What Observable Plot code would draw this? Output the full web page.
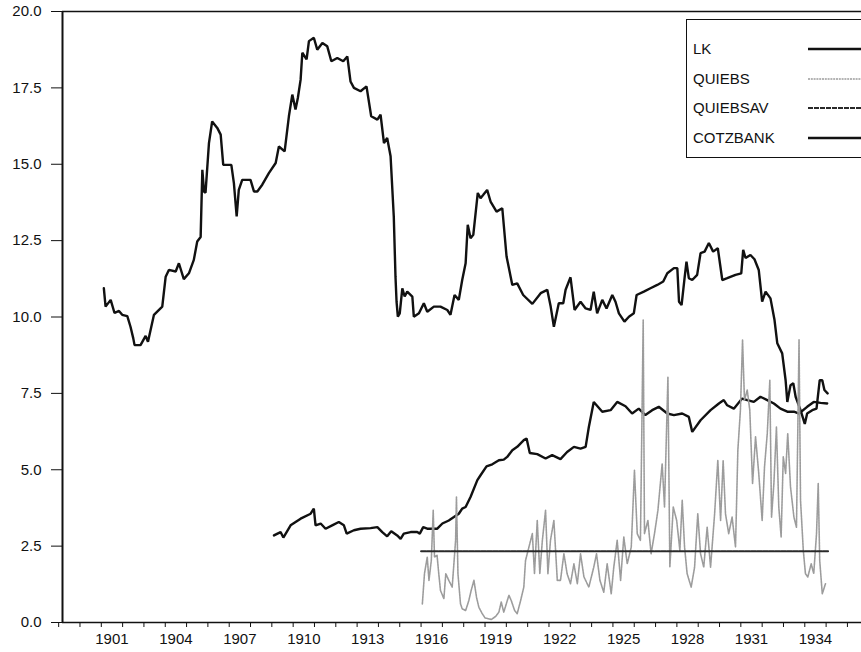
<!DOCTYPE html>
<html>
<head>
<meta charset="utf-8">
<script src="https://cdn.jsdelivr.net/npm/d3@7"></script>
<script src="https://cdn.jsdelivr.net/npm/@observablehq/plot@0.6"></script>
<style>
  html, body { margin: 0; padding: 0; background: #fff; }
  #wrap { position: relative; width: 861px; height: 652px; overflow: hidden; font-family: "Liberation Sans", Arial, sans-serif; }
  #legend { position: absolute; left: 686px; top: 19px; width: 220px; height: 139px; border: 1.5px solid #111; box-sizing: border-box; }
  #legend .row { position: absolute; left: 6px; font-size: 15px; color: #111; line-height: 16px; }
  #legend svg { position: absolute; left: 0; top: 0; }
</style>
</head>
<body>
<div id="wrap">
  <div id="chart"></div>
  <div id="legend"></div>
</div>
<script>
// ---- data ----
const lkYears = [1901.12,1901.2,1901.44,1901.62,1901.83,1901.98,1902.22,1902.37,1902.5,1902.56,1902.84,1903.08,1903.19,1903.47,1903.86,1904.02,1904.17,1904.49,1904.64,1904.87,1905.11,1905.34,1905.5,1905.66,1905.74,1905.82,1905.89,1906.05,1906.2,1906.44,1906.6,1906.72,1907.1,1907.22,1907.35,1907.45,1907.61,1908.0,1908.16,1908.32,1908.55,1908.86,1909.18,1909.33,1909.6,1909.8,1909.96,1910.11,1910.22,1910.35,1910.43,1910.63,1910.74,1910.97,1911.13,1911.37,1911.6,1911.79,1912.07,1912.35,1912.54,1912.69,1912.85,1913.16,1913.44,1913.66,1913.95,1914.1,1914.26,1914.41,1914.57,1914.72,1914.8,1914.85,1914.91,1915.0,1915.12,1915.23,1915.35,1915.59,1915.66,1915.9,1916.13,1916.29,1916.6,1916.91,1917.23,1917.38,1917.57,1917.77,1917.93,1918.09,1918.19,1918.32,1918.45,1918.66,1918.79,1918.92,1919.1,1919.26,1919.54,1919.81,1920.01,1920.28,1920.51,1920.79,1921.22,1921.61,1921.92,1922.08,1922.23,1922.46,1922.67,1922.78,1923.01,1923.2,1923.48,1923.72,1923.95,1924.1,1924.26,1924.5,1924.7,1924.97,1925.12,1925.28,1925.54,1925.75,1925.98,1926.11,1926.45,1926.76,1927.08,1927.36,1927.55,1927.86,1928.02,1928.1,1928.22,1928.36,1928.45,1928.56,1928.72,1928.95,1929.11,1929.3,1929.5,1929.7,1929.92,1930.13,1930.36,1930.75,1931.02,1931.11,1931.22,1931.45,1931.64,1931.84,1932.0,1932.16,1932.39,1932.58,1932.71,1932.94,1933.1,1933.18,1933.33,1933.46,1933.57,1933.8,1934.0,1934.11,1934.35,1934.55,1934.7,1934.82,1934.92,1935.07];
const lkValues = [10.94,10.34,10.56,10.13,10.2,10.07,10.03,9.68,9.3,9.08,9.08,9.38,9.19,10.07,10.34,11.32,11.54,11.49,11.76,11.24,11.43,11.87,12.47,12.62,14.82,14.1,14.07,15.69,16.4,16.19,15.97,14.98,14.98,14.38,13.29,14.16,14.49,14.49,14.11,14.11,14.33,14.71,15.04,15.58,15.42,16.57,17.28,16.79,17.17,17.77,18.65,18.43,19.03,19.14,18.75,18.97,18.86,18.37,18.48,18.37,18.53,17.71,17.5,17.39,17.55,16.57,16.46,16.62,15.69,15.86,15.26,13.29,11.32,10.5,10.01,10.12,10.94,10.67,10.83,10.67,10.01,10.12,10.45,10.17,10.34,10.34,10.23,10.07,10.72,10.56,11.21,11.76,13.02,12.58,12.69,14.06,13.89,14.0,14.16,13.78,13.45,13.56,11.98,11.05,11.1,10.72,10.43,10.78,10.89,10.34,9.68,10.45,10.45,10.89,11.3,10.23,10.5,10.28,10.23,10.83,10.12,10.56,10.28,10.72,10.5,10.12,9.85,10.01,10.12,10.72,10.83,10.94,11.05,11.16,11.43,11.6,11.6,10.5,10.39,11.27,11.81,11.27,11.21,11.38,12.09,12.14,12.42,12.14,12.25,11.21,11.27,11.38,11.43,12.2,11.93,12.03,11.89,11.54,10.5,10.83,10.61,9.9,9.14,8.81,7.93,7.22,7.77,7.83,7.39,6.95,6.5,6.84,6.95,7.0,7.93,7.93,7.61,7.5];

const quiebsYears = [1916.06,1916.16,1916.29,1916.37,1916.48,1916.57,1916.63,1916.75,1916.83,1916.91,1917.07,1917.16,1917.3,1917.46,1917.62,1917.66,1917.73,1917.85,1917.93,1918.09,1918.24,1918.35,1918.48,1918.6,1918.71,1918.87,1919.0,1919.3,1919.5,1919.65,1919.76,1919.88,1920.12,1920.23,1920.39,1920.51,1920.67,1920.82,1920.9,1921.06,1921.22,1921.32,1921.45,1921.57,1921.69,1921.84,1921.95,1922.07,1922.23,1922.39,1922.54,1922.7,1922.85,1923.01,1923.17,1923.33,1923.48,1923.64,1923.87,1924.1,1924.23,1924.39,1924.57,1924.73,1924.92,1925.04,1925.2,1925.36,1925.51,1925.67,1925.86,1926.01,1926.14,1926.29,1926.42,1926.48,1926.64,1926.79,1926.95,1927.11,1927.31,1927.42,1927.58,1927.67,1927.83,1927.99,1928.14,1928.25,1928.36,1928.48,1928.67,1928.83,1928.98,1929.11,1929.26,1929.42,1929.58,1929.77,1929.92,1930.05,1930.17,1930.28,1930.43,1930.59,1930.75,1930.86,1930.98,1931.08,1931.17,1931.3,1931.42,1931.55,1931.69,1931.84,1932.0,1932.11,1932.24,1932.36,1932.44,1932.55,1932.67,1932.78,1932.89,1932.99,1933.1,1933.2,1933.33,1933.49,1933.61,1933.73,1933.8,1933.93,1934.03,1934.14,1934.3,1934.42,1934.55,1934.63,1934.7,1934.82,1934.97];
const quiebsValues = [0.61,1.6,2.14,1.38,2.03,3.67,2.14,2.2,1.6,1.05,0.78,1.6,1.38,1.16,2.69,4.11,1.6,0.61,0.45,0.39,0.72,1.05,1.38,0.83,0.5,0.29,0.15,0.1,0.2,0.34,0.67,0.34,0.89,0.72,0.39,0.29,0.72,1.16,2.03,2.47,2.91,1.6,3.34,1.6,2.69,3.67,1.6,2.69,3.34,1.38,1.38,2.25,1.6,1.27,1.92,1.27,2.25,1.49,1.16,1.81,2.25,1.38,0.99,1.92,0.94,1.81,2.69,1.38,2.8,1.92,2.47,4.98,2.91,2.69,9.9,2.91,3.34,2.25,2.91,3.67,5.2,3.78,8.04,1.81,3.78,3.34,2.36,4.0,2.47,1.6,1.16,1.81,3.56,2.25,1.81,3.12,1.81,3.56,5.31,3.34,5.31,3.56,2.91,3.45,2.47,5.64,6.95,9.25,7.28,7.61,6.95,4.55,6.08,4.88,3.34,5.09,6.19,7.93,3.45,4.55,6.4,3.78,2.8,5.42,4.88,6.19,4.44,3.45,3.12,9.25,4.0,2.36,1.6,1.49,1.92,1.6,2.91,4.55,2.03,0.94,1.27];

const quiebsavYears = [1916.0, 1935.1];
const quiebsavValues = [2.33, 2.33];

const cotzbankYears = [1909.1,1909.41,1909.54,1909.88,1910.35,1910.82,1910.97,1911.05,1911.29,1911.52,1911.83,1912.14,1912.38,1912.51,1912.85,1913.16,1913.63,1913.95,1914.18,1914.41,1914.6,1914.88,1915.04,1915.19,1915.51,1915.82,1915.94,1916.1,1916.29,1916.53,1916.76,1917.0,1917.3,1917.54,1917.77,1917.93,1918.09,1918.32,1918.64,1918.79,1919.07,1919.34,1919.65,1919.88,1920.04,1920.28,1920.51,1920.82,1920.95,1921.1,1921.45,1921.84,1922.15,1922.54,1922.85,1923.17,1923.48,1923.72,1923.87,1924.1,1924.5,1924.89,1925.2,1925.59,1925.9,1926.21,1926.52,1926.84,1927.15,1927.55,1927.86,1928.25,1928.56,1928.72,1929.11,1929.58,1929.97,1930.2,1930.36,1930.67,1931.06,1931.3,1931.61,1931.92,1932.24,1932.55,1932.86,1933.18,1933.49,1933.73,1934.11,1934.42,1934.74,1935.05];
const cotzbankValues = [2.85,2.96,2.78,3.18,3.4,3.56,3.73,3.18,3.24,3.07,3.18,3.29,3.18,2.91,3.02,3.07,3.09,3.12,2.96,2.82,2.99,2.85,2.74,2.91,2.96,2.96,2.91,3.12,3.07,3.07,3.07,3.24,3.34,3.45,3.56,3.73,3.78,4.11,4.66,4.82,5.11,5.18,5.31,5.33,5.42,5.64,5.75,5.97,6.02,5.55,5.51,5.37,5.48,5.35,5.58,5.75,5.69,5.75,6.4,7.22,6.9,6.95,7.22,7.08,6.84,7.0,6.79,6.95,7.06,6.84,6.79,6.84,6.73,6.24,6.62,6.95,7.17,7.28,7.11,7.0,7.33,7.28,7.22,7.39,7.28,7.17,7.0,6.9,6.9,6.84,7.06,7.22,7.19,7.17];

const yTicks = [0, 2.5, 5, 7.5, 10, 12.5, 15, 17.5, 20];
const yearTicks = d3.range(1899, 1937);
const labelYears = [1901, 1904, 1907, 1910, 1913, 1916, 1919, 1922, 1925, 1928, 1931, 1934];
const seriesNames = ["LK", "QUIEBS", "QUIEBSAV", "COTZBANK"];

// ---- styles ----
const seriesStyle = {
  LK:       {stroke: "#111", strokeWidth: 2.4},
  QUIEBS:   {stroke: "#9c9c9c", strokeWidth: 1.6, strokeDasharray: "2,0.8"},
  QUIEBSAV: {stroke: "#2a2a2a", strokeWidth: 2, strokeDasharray: "5,1"},
  COTZBANK: {stroke: "#111", strokeWidth: 2.4}
};

const rows = (ys, vs) => ys.map((t, i) => ({t, v: vs[i]}));
const lk = rows(lkYears, lkValues);
const quiebs = rows(quiebsYears, quiebsValues);
const quiebsav = rows(quiebsavYears, quiebsavValues);
const cotz = rows(cotzbankYears, cotzbankValues);

const xDomain = [1899.18, 1936.66];
const FONT = "'Liberation Sans', Arial, sans-serif";

const chart = Plot.plot({
  width: 861,
  height: 652,
  marginLeft: 62,
  marginRight: 0,
  marginTop: 11,
  marginBottom: 30,
  style: {fontFamily: FONT, fontSize: "15px", color: "#111", background: "#fff"},
  x: {type: "linear", domain: xDomain},
  y: {domain: [0, 20]},
  marks: [
    Plot.line(cotz, {x: "t", y: "v", ...seriesStyle.COTZBANK, strokeLinejoin: "miter"}),
    Plot.line(lk, {x: "t", y: "v", ...seriesStyle.LK, strokeLinejoin: "miter"}),
    Plot.line(quiebs, {x: "t", y: "v", ...seriesStyle.QUIEBS}),
    Plot.line(quiebsav, {x: "t", y: "v", ...seriesStyle.QUIEBSAV}),
    Plot.ruleY([20], {stroke: "#111", strokeWidth: 1.5}),
    Plot.ruleY([0], {stroke: "#111", strokeWidth: 1.5}),
    Plot.ruleX([xDomain[0]], {stroke: "#111", strokeWidth: 2}),
    Plot.axisY(yTicks, {anchor: "left", tickSize: 11, tickPadding: 10, tickFormat: d => d.toFixed(1), label: null, fontSize: 15, stroke: "#111"}),
    Plot.axisX(yearTicks, {anchor: "bottom", tickSize: 5, tickFormat: () => "", label: null, stroke: "#111"}),
    Plot.axisX(labelYears.map(y => y + 0.5), {anchor: "bottom", tickSize: 0, tickPadding: 11, tickFormat: d => String(Math.floor(d)), label: null, fontSize: 15})
  ]
});
document.getElementById("chart").appendChild(chart);

// ---- legend ----
const legend = document.getElementById("legend");
const rowTops = [21, 51, 80, 110];
const ns = "http://www.w3.org/2000/svg";
const sw = document.createElementNS(ns, "svg");
sw.setAttribute("width", "220");
sw.setAttribute("height", "139");
seriesNames.forEach((name, i) => {
  const div = document.createElement("div");
  div.className = "row";
  div.style.top = rowTops[i] + "px";
  div.textContent = name;
  legend.appendChild(div);
  const st = seriesStyle[name];
  const ln = document.createElementNS(ns, "line");
  const yy = rowTops[i] + 8;
  ln.setAttribute("x1", 121); ln.setAttribute("x2", 176);
  ln.setAttribute("y1", yy); ln.setAttribute("y2", yy);
  ln.setAttribute("stroke", st.stroke);
  ln.setAttribute("stroke-width", st.strokeWidth);
  if (st.strokeDasharray) ln.setAttribute("stroke-dasharray", st.strokeDasharray);
  sw.appendChild(ln);
});
legend.appendChild(sw);
</script>
</body>
</html>
